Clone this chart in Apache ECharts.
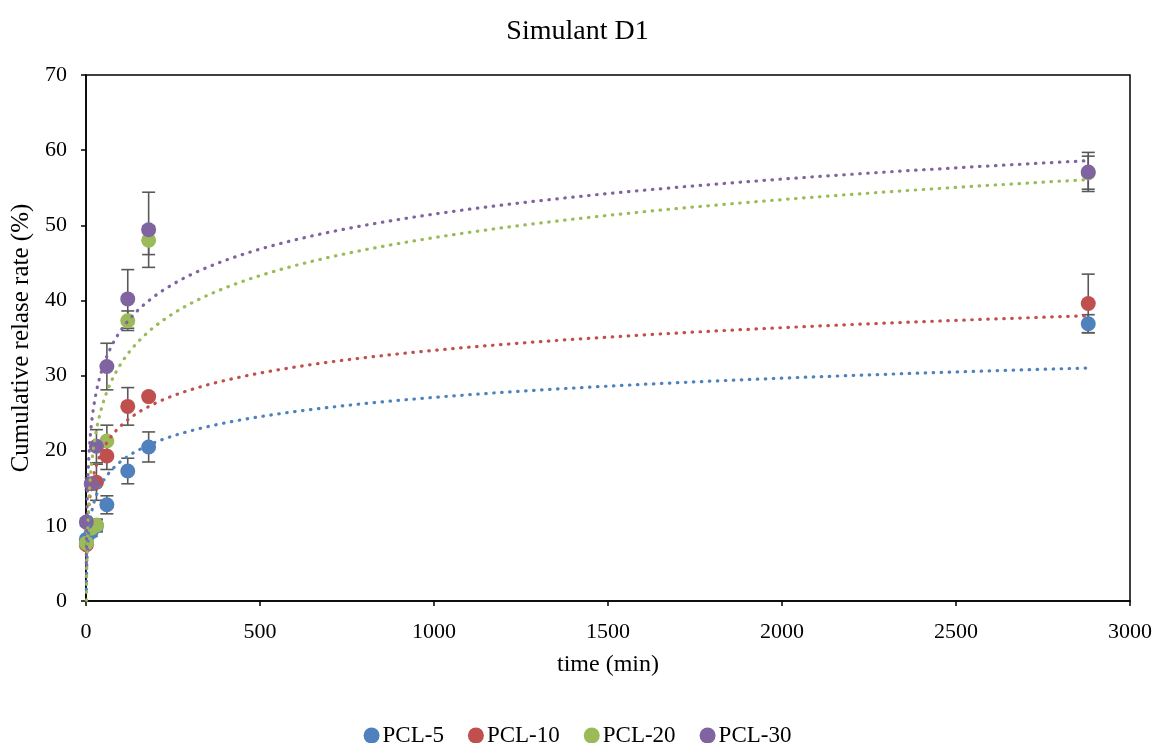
<!DOCTYPE html>
<html>
<head>
<meta charset="utf-8">
<script src="https://cdn.jsdelivr.net/npm/echarts@6/dist/echarts.min.js"></script>
<style>
    html, body { margin: 0; background: #fff; }
    #chart { width: 1155px; height: 743px; }
</style>
</head>
<body>
<div id="chart"></div>
<script>
// sampling times (min)
var times = [1, 15, 30, 60, 120, 180, 2880];
var names = ['PCL-5', 'PCL-10', 'PCL-20', 'PCL-30'];
var colors = ['#4F81BD', '#C0504D', '#9BBB59', '#8064A2'];

// cumulative release (%)
var pcl5 = [8.2, 9.2, 10.0, 12.8, 17.3, 20.5, 36.9];
var pcl10 = [7.5, 10.1, 15.8, 19.3, 25.9, 27.2, 39.6];
var pcl20 = [7.7, 9.7, 10.1, 21.3, 37.3, 48.0, 57.0];
var pcl30 = [10.5, 15.6, 20.6, 31.2, 40.2, 49.4, 57.1];

// standard deviation (error bars)
var sd5 = [0.4, 0.6, 0.8, 1.2, 1.7, 2.0, 1.2];
var sd10 = [0.4, 0.8, 2.4, 1.8, 2.5, 0.4, 3.9];
var sd20 = [0.4, 0.6, 0.8, 2.1, 1.3, 1.9, 2.2];
var sd30 = [0.5, 0.8, 2.2, 3.1, 3.9, 5.0, 2.6];

var values = [pcl5, pcl10, pcl20, pcl30];
var sds = [sd5, sd10, sd20, sd30];
var FONT = '"Liberation Serif", "Times New Roman", serif';

// logarithmic trendline, y = a*ln(x) + b, least squares like excel
function logFit(xs, ys) {
    var n = xs.length, mx = 0, my = 0, sxx = 0, sxy = 0;
    for (var i = 0; i < n; i++) { mx += Math.log(xs[i]) / n; my += ys[i] / n; }
    for (var i = 0; i < n; i++) {
        var dx = Math.log(xs[i]) - mx;
        sxx += dx * dx;
        sxy += dx * (ys[i] - my);
    }
    var a = sxy / sxx;
    return { a: a, b: my - a * mx };
}

var trendX = [];
for (var t = times[0]; t < times[times.length - 1]; t *= 1.08) trendX.push(t);
trendX.push(times[times.length - 1]);

function errorBar(params, api) {
    var x = api.value(0);
    var hi = api.coord([x, api.value(2)]);
    var lo = api.coord([x, api.value(1)]);
    var w = 6.5;
    var style = { stroke: '#595959', lineWidth: 1.6 };
    return {
        type: 'group',
        children: [
            { type: 'line', shape: { x1: hi[0], y1: hi[1], x2: lo[0], y2: lo[1] }, style: style },
            { type: 'line', shape: { x1: hi[0] - w, y1: hi[1], x2: hi[0] + w, y2: hi[1] }, style: style },
            { type: 'line', shape: { x1: lo[0] - w, y1: lo[1], x2: lo[0] + w, y2: lo[1] }, style: style }
        ]
    };
}

var series = [];
values.forEach(function (vals, k) {
    var pts = [], bars = [], trend = [];
    for (var i = 0; i < times.length; i++) {
        pts.push([times[i], vals[i]]);
        bars.push([times[i], vals[i] - sds[k][i], vals[i] + sds[k][i]]);
    }
    var fit = logFit(times, vals);
    for (let x of trendX) trend.push([x, fit.a * Math.log(x) + fit.b]);

    series.push({
        type: 'custom', name: names[k] + ' err', renderItem: errorBar,
        data: bars, z: 1, silent: true
    });
    series.push({
        type: 'scatter', name: names[k], data: pts, symbolSize: 15,
        itemStyle: { color: colors[k], opacity: 1 }, z: 2
    });
    series.push({
        type: 'line', name: names[k] + ' trend', data: trend, showSymbol: false,
        smooth: false, clip: true, z: 3, silent: true,
        lineStyle: { color: colors[k], width: 3.2, type: [0.5, 7.5], cap: 'round' }
    });
});

var chart = echarts.init(document.getElementById('chart'));
chart.setOption({
    animation: false,
    backgroundColor: '#fff',
    title: {
        text: 'Simulant D1', left: 'center', top: 13,
        textStyle: { fontFamily: FONT, fontSize: 28, fontWeight: 'normal', color: '#000' }
    },
    legend: {
        data: names, top: 719, left: 'center', icon: 'circle',
        itemWidth: 16, itemHeight: 16, itemGap: 24,
        textStyle: { fontFamily: FONT, fontSize: 23, color: '#000', padding: [0, 0, 0, -2] }
    },
    grid: {
        left: 86, right: 25, top: 75, bottom: 142,
        outerBoundsMode: 'none', containLabel: false,
        show: true, borderColor: '#000', borderWidth: 1.5
    },
    xAxis: {
        type: 'value', min: 0, max: 3000, interval: 500,
        name: 'time (min)', nameLocation: 'middle', nameGap: 52,
        nameTextStyle: { fontFamily: FONT, fontSize: 24, color: '#000' },
        axisLine: { show: true, lineStyle: { color: '#000', width: 1.5 } },
        axisTick: { show: true, length: 5, lineStyle: { color: '#000', width: 1.5 } },
        axisLabel: { fontFamily: FONT, fontSize: 22, color: '#000', margin: 20,
            formatter: function (v) { return String(v); } },
        splitLine: { show: false }
    },
    yAxis: {
        type: 'value', min: 0, max: 70, interval: 10,
        name: 'Cumulative relase rate (%)', nameLocation: 'middle', nameGap: 52,
        nameTextStyle: { fontFamily: FONT, fontSize: 25, color: '#000' },
        axisLine: { show: true, lineStyle: { color: '#000', width: 1.5 } },
        axisTick: { show: true, length: 5, lineStyle: { color: '#000', width: 1.5 } },
        axisLabel: { fontFamily: FONT, fontSize: 22, color: '#000', margin: 19 },
        splitLine: { show: false }
    },
    series: series
});
</script>
</body>
</html>
